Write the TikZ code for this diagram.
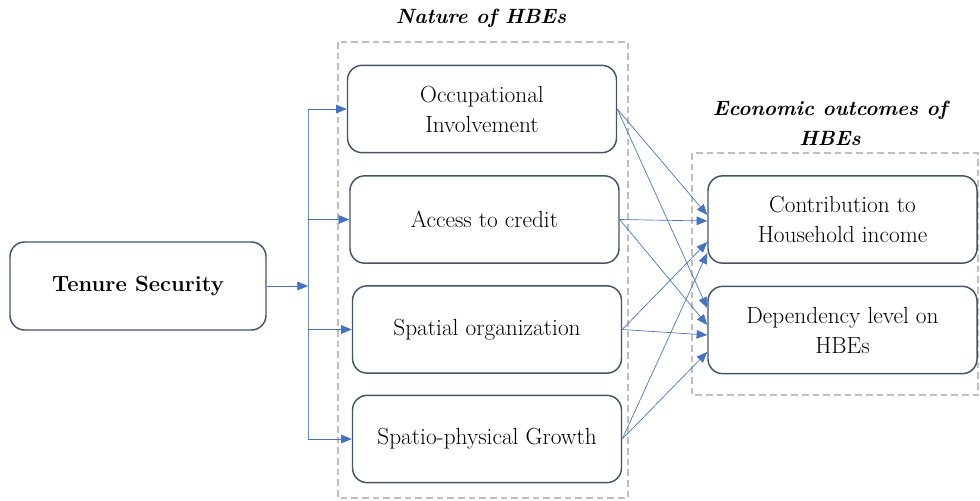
\documentclass[tikz,border=0pt]{standalone}
\usetikzlibrary{arrows.meta,calc}
\definecolor{boxline}{HTML}{44546A}
\definecolor{arrblue}{HTML}{4472C4}
\definecolor{dashgray}{HTML}{BFBFBF}
\begin{document}
\begin{tikzpicture}[x=0.75pt,y=-0.75pt,
  box/.style={draw=boxline, line width=1.1pt, rounded corners=11pt, fill=white,
    minimum width=201.75pt, minimum height=65.5pt, align=center, inner sep=2pt,
    font=\fontsize{17.5}{22.5}\selectfont},
  conn/.style={draw=arrblue!80, line width=0.5pt},
  arr/.style={conn, -{Triangle[length=8pt,width=6.5pt]}, arrblue},
  grp/.style={draw=dashgray, dashed, line width=0.9pt, dash pattern=on 5pt off 3pt},
  ttl/.style={font=\fontsize{15.5}{22.5}\selectfont\bfseries\itshape, align=center}]
\useasboundingbox (0,0) rectangle (980,500);
% groups
\draw[grp] (338,42) rectangle (628,498);
\draw[grp] (692,153) rectangle (978,395);
\node[ttl] (t1) at (481,18) {Nature of HBEs};
\node[ttl] (t2) at (830,123) {Economic outcomes of\\HBEs};
% nodes
\node[box, minimum width=192pt, minimum height=66pt, font=\fontsize{16.5}{20}\selectfont\bfseries] (ten) at (138,286) {Tenure Security};
\node[box] (occ) at (482,109) {Occupational\\Involvement};
\node[box] (acc) at (484.5,219.5) {Access to credit};
\node[box] (spa) at (487,329.5) {Spatial organization};
\node[box] (gro) at (487,439) {Spatio-physical Growth};
\node[box] (con) at (842.5,219.5) {Contribution to\\Household income};
\node[box] (dep) at (842.5,330) {Dependency level on\\HBEs};
% left bus
\coordinate (bus) at (308,286);
\draw[arr] (ten.east) -- (bus);
\draw[conn] (bus |- occ.west) -- (bus |- gro.west);
\draw[arr] (bus |- occ.west) -- (occ.west);
\draw[arr] (bus |- acc.west) -- (acc.west);
\draw[arr] (bus |- spa.west) -- (spa.west);
\draw[arr] (bus |- gro.west) -- (gro.west);
% right connectors
\draw[arr] (occ.east) -- ($(con.west)+(0,-4.5)$);
\draw[arr] (acc.east) -- ($(con.west)+(0,1.5)$);
\draw[arr] (spa.east) -- ($(con.west)+(0,22.5)$);
\draw[arr] (gro.east) -- ($(con.west)+(0,33.5)$);
\draw[arr] (occ.east) -- ($(dep.west)+(0,-22)$);
\draw[arr] (acc.east) -- ($(dep.west)+(0,-5)$);
\draw[arr] (spa.east) -- ($(dep.west)+(0,5)$);
\draw[arr] (gro.east) -- ($(dep.west)+(0,22)$);
\end{tikzpicture}
\end{document}
